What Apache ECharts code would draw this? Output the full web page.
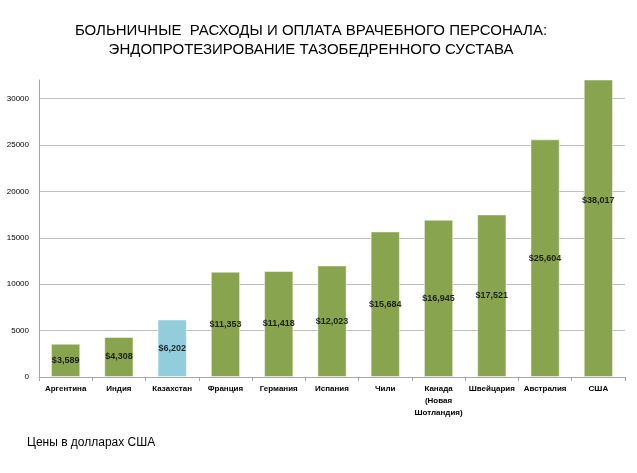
<!DOCTYPE html>
<html>
<head>
<meta charset="utf-8">
<script src="https://cdn.jsdelivr.net/npm/echarts@6/dist/echarts.min.js"></script>
<style>
html,body{margin:0;padding:0;background:#fff;}
#c{width:637px;height:473px;}
</style>
</head>
<body>
<div id="c"></div>
<script>
const categories = ['Аргентина', 'Индия', 'Казахстан', 'Франция', 'Германия', 'Испания', 'Чили', 'Канада\n(Новая\nШотландия)', 'Швейцария', 'Австралия', 'США'];
const values = [3589, 4308, 6202, 11353, 11418, 12023, 15684, 16945, 17521, 25604, 38017];
const highlighted = ['Казахстан'];
const yTicks = { min: 0, max: 32000, interval: 5000 };
const titleLines = ['БОЛЬНИЧНЫЕ  РАСХОДЫ И ОПЛАТА ВРАЧЕБНОГО ПЕРСОНАЛА:', 'ЭНДОПРОТЕЗИРОВАНИЕ ТАЗОБЕДРЕННОГО СУСТАВА'];
const note = 'Цены в долларах США';

const GREEN = '#88A44F';
const BLUE = '#92CDDC';

const chart = echarts.init(document.getElementById('c'), null, { renderer: 'canvas' });
chart.setOption({
  backgroundColor: '#ffffff',
  animation: false,
  title: [{
    text: titleLines.join('\n'),
    left: 311, top: 21, textAlign: 'center', padding: 0,
    textStyle: { fontFamily: 'Liberation Sans', fontSize: 15, fontWeight: 'normal', color: '#000', lineHeight: 19 }
  }, {
    text: note,
    left: 27, top: 437, padding: 0,
    textStyle: { fontFamily: 'Liberation Sans', fontSize: 12, fontWeight: 'normal', color: '#000' }
  }],
  grid: { left: 39, right: 12, top: 80, bottom: 96, containLabel: false },
  xAxis: {
    type: 'category',
    data: categories,
    axisLine: { show: true, lineStyle: { color: '#A6A6A6', width: 1 } },
    axisTick: { show: true, alignWithLabel: false, length: 4, lineStyle: { color: '#A6A6A6' } },
    axisLabel: {
      interval: 0, margin: 6, color: '#000',
      fontFamily: 'Liberation Sans', fontSize: 8, fontWeight: 'bold', lineHeight: 12
    },
    splitLine: { show: false }
  },
  yAxis: {
    type: 'value',
    min: yTicks.min, max: yTicks.max, interval: yTicks.interval,
    axisLine: { show: true, lineStyle: { color: '#A6A6A6', width: 1 } },
    axisTick: { show: false },
    axisLabel: {
      color: '#000', fontFamily: 'Liberation Sans', fontSize: 8, margin: 10,
      showMaxLabel: false,
      formatter: v => String(v)
    },
    splitLine: { show: true, showMaxLine: false, lineStyle: { color: '#C0C0C0', width: 1 } }
  },
  series: [{
    type: 'bar',
    data: values.map((v, i) => ({
      value: v,
      itemStyle: { color: highlighted.includes(categories[i]) ? BLUE : GREEN }
    })),
    barWidth: '55%',
    clip: true,
    itemStyle: { borderColor: 'rgba(255,255,255,0.5)', borderWidth: 1 },
    z: 2
  }, {
    type: 'scatter',
    data: values.map((v, i) => [i, v / 2, v]),
    symbolSize: 0,
    silent: true,
    z: 5,
    label: {
      show: true, position: 'inside',
      formatter: p => '$' + p.data[2].toLocaleString('en-US'),
      color: '#000', fontFamily: 'Liberation Sans', fontSize: 9, fontWeight: 'bold'
    }
  }]
});
</script>
</body>
</html>
